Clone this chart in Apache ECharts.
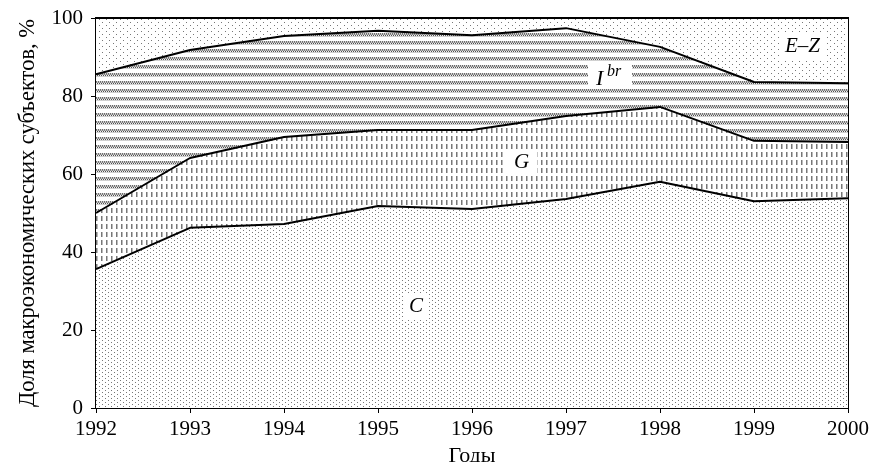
<!DOCTYPE html>
<html><head><meta charset="utf-8">
<script src="https://cdn.jsdelivr.net/npm/echarts@6/dist/echarts.min.js"></script>
<style>html,body{margin:0;padding:0;background:#fff}#c{width:887px;height:462px}</style>
</head><body><div id="c"></div>
<script>
var years = ['1992','1993','1994','1995','1996','1997','1998','1999','2000'];
var shareC  = [35.6, 46.2, 47.2, 51.8, 51.0, 53.6, 58.0, 53.0, 53.8];
var shareG  = [14.4, 17.9, 22.3, 19.5, 20.3, 21.3, 19.2, 15.5, 14.4];
var shareI  = [35.6, 27.7, 25.9, 25.4, 24.3, 22.5, 15.4, 15.1, 15.1];
var shareEZ = [14.4,  8.2,  4.6,  3.3,  4.4,  2.6,  7.4, 16.4, 16.7];
var yTicks = [0, 20, 40, 60, 80, 100];

function mk(w, h, draw) {
  var c = document.createElement('canvas'); c.width = w; c.height = h;
  var g = c.getContext('2d'); g.fillStyle = '#fff'; g.fillRect(0, 0, w, h); draw(g);
  return { image: c, repeat: 'repeat' };
}
var patC = mk(6, 4, function (g) { g.fillStyle = '#777'; g.fillRect(0, 0, 1, 1); g.fillRect(3, 2, 1, 1); });
var patG = mk(5, 8, function (g) { g.fillStyle = '#777'; g.fillRect(1, 0, 1.5, 5); });
var patI = mk(6, 8, function (g) {
  g.strokeStyle = '#444'; g.lineWidth = 1;
  for (var x = -3; x < 9; x += 2) { g.beginPath(); g.moveTo(x, 4.5); g.lineTo(x + 2, 1); g.stroke(); }
});
var patEZ = mk(7, 6, function (g) { g.fillStyle = '#777'; g.fillRect(1, 1, 1, 1); g.fillRect(4, 4, 1, 1); });

var font = '"Liberation Serif", "DejaVu Serif", serif';
function ser(name, data, pat) {
  return {
    name: name, type: 'line', stack: 'total', data: data, symbol: 'none',
    lineStyle: { color: '#000', width: 2 }, areaStyle: { color: pat, opacity: 1 }, z: 2
  };
}
var chart = echarts.init(document.getElementById('c'));
chart.setOption({
  animation: false,
  backgroundColor: '#fff',
  grid: { left: 96, right: 39, top: 18, bottom: 54, containLabel: false, outerBoundsMode: 'none',
          show: true, borderColor: '#000', borderWidth: 2, backgroundColor: 'transparent' },
  xAxis: {
    type: 'category', data: years, boundaryGap: false,
    name: 'Годы', nameLocation: 'middle', nameGap: 31,
    nameTextStyle: { fontFamily: font, fontSize: 22, color: '#000' },
    axisLine: { lineStyle: { color: '#000', width: 2 } },
    axisTick: { length: 5, lineStyle: { color: '#000' } },
    axisLabel: { fontFamily: font, fontSize: 21, color: '#000', margin: 11 },
    splitLine: { show: false }
  },
  yAxis: {
    type: 'value', min: 0, max: 100, interval: 20,
    name: 'Доля макроэкономических субъектов, %', nameLocation: 'middle', nameGap: 56,
    nameTextStyle: { fontFamily: font, fontSize: 22.5, color: '#000' },
    axisLine: { show: true, lineStyle: { color: '#000', width: 2 } },
    axisTick: { show: true, length: 5, lineStyle: { color: '#000' } },
    axisLabel: { fontFamily: font, fontSize: 21, color: '#000', margin: 13 },
    splitLine: { show: false }
  },
  series: [
    ser('C', shareC, patC),
    ser('G', shareG, patG),
    ser('I', shareI, patI),
    ser('E–Z', shareEZ, patEZ)
  ],
  graphic: [
    { type: 'text', left: 403, top: 293, z: 10, style: { text: 'C', font: 'italic 21px ' + font, fill: '#000', backgroundColor: '#fff', padding: [3, 6] } },
    { type: 'text', left: 506, top: 149, z: 10, style: { text: 'G', font: 'italic 21px ' + font, fill: '#000', backgroundColor: '#fff', padding: [3, 8] } },
    { type: 'rect', left: 588, top: 62, z: 10, shape: { width: 44, height: 26 }, style: { fill: '#fff' } },
    { type: 'text', left: 596, top: 68, z: 11, style: { text: 'I', font: 'italic 22px ' + font, fill: '#000' } },
    { type: 'text', left: 607, top: 64, z: 11, style: { text: 'br', font: 'italic 16px ' + font, fill: '#000' } },
    { type: 'text', left: 780, top: 33, z: 10, style: { text: 'E–Z', font: 'italic 21px ' + font, fill: '#000', backgroundColor: '#fff', padding: [3, 5] } }
  ]
});
</script>
</body></html>
